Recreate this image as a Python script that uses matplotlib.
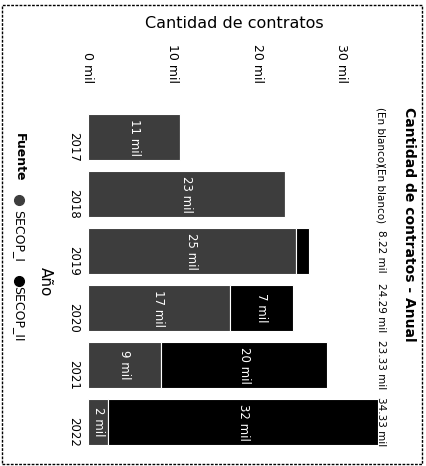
import matplotlib
matplotlib.use("Agg")
import matplotlib.pyplot as plt
from matplotlib.lines import Line2D
from matplotlib.patches import Rectangle

# ---------------- data ----------------
years = ["2017", "2018", "2019", "2020", "2021", "2022"]
series_names = ["SECOP_I", "SECOP_II"]
secop_i = [10.9, 23.3, 24.6, 16.8, 8.6, 2.4]      # miles de contratos
secop_ii = [0.0, 0.0, 1.5, 7.49, 19.73, 31.93]
total_labels = ["(En blanco)", "(En blanco)", "8.22 mil", "24.29 mil", "23.33 mil", "34.33 mil"]
xticks = [0, 10, 20, 30]
xtick_labels = ["0 mil", "10 mil", "20 mil", "30 mil"]

title = "Cantidad de contratos - Anual"
value_title = "Cantidad de contratos"
cat_title = "Año"
legend_title = "Fuente"

colors = ["#3d3d3d", "#000000"]

plt.rcParams["font.family"] = ["DejaVu Sans"]

W, H = 426, 466
fig = plt.figure(figsize=(W / 100, H / 100), dpi=100)

def fx(px):
    return px / W

def fy(py):
    return (H - py) / H

# axes: value 0 at x=88, 8.45 px per mil; category centres 137 + 57*i
x0, x1 = 88, 390
ytop, ybot = 108.5, 450.5
ax = fig.add_axes([fx(x0), fy(ybot), (x1 - x0) / W, (ybot - ytop) / H])
ax.set_xlim(0, (x1 - x0) / 8.45)
ax.set_ylim(len(years) - 0.5, -0.5)

pos = list(range(len(years)))
b1 = ax.barh(pos, secop_i, height=0.82, color=colors[0], edgecolor="white", linewidth=0.8)
b2 = ax.barh(pos, secop_ii, left=secop_i, height=0.82, color=colors[1], edgecolor="white", linewidth=0.8)

def seg_labels(vals):
    return [f"{round(v):.0f} mil" if v >= 2 else "" for v in vals]

ax.bar_label(b1, labels=seg_labels(secop_i), label_type="center", rotation=270,
             color="white", fontsize=8.5)
ax.bar_label(b2, labels=seg_labels(secop_ii), label_type="center", rotation=270,
             color="white", fontsize=8.5)

for sp in ax.spines.values():
    sp.set_visible(False)

ax.xaxis.tick_top()
ax.set_xticks(xticks)
ax.set_xticklabels(xtick_labels, rotation=270, fontsize=9, color="black")
ax.tick_params(axis="x", length=0, pad=18.4)
ax.set_yticks(pos)
ax.set_yticklabels(years, rotation=270, fontsize=8.5, color="black")
ax.tick_params(axis="y", length=0, pad=5.8)

# total labels (right side, rotated)
for i, t in enumerate(total_labels):
    ax.text(0, i, t, transform=ax.get_yaxis_transform(), rotation=270,
            ha="center", va="center", fontsize=7.5, color="black")
# move them to the right column
for txt in ax.texts[-len(total_labels):]:
    txt.set_x((381 - x0) / (x1 - x0))

# titles
fig.text(fx(409), fy(224), title, rotation=270, ha="center", va="center",
         fontsize=10, fontweight="bold", color="black")
fig.text(fx(234), fy(23), value_title, ha="center", va="center", fontsize=11.5, color="black")
fig.text(fx(45), fy(282), cat_title, rotation=270, ha="center", va="center",
         fontsize=11, color="black")

# legend (rotated)
fig.text(fx(19), fy(157), legend_title, rotation=270, ha="center", va="center",
         fontsize=9, fontweight="bold", color="black")
fig.add_artist(Line2D([fx(19)], [fy(200)], marker="o", markersize=7, color=colors[0],
                      linestyle="none", transform=fig.transFigure))
fig.text(fx(19), fy(236), series_names[0], rotation=270, ha="center", va="center",
         fontsize=9, color="black")
fig.add_artist(Line2D([fx(19)], [fy(281)], marker="o", markersize=7, color=colors[1],
                      linestyle="none", transform=fig.transFigure))
fig.text(fx(19), fy(314), series_names[1], rotation=270, ha="center", va="center",
         fontsize=9, color="black")

# outer frame
fig.add_artist(Rectangle((fx(2), fy(464)), fx(420), (464 - 5) / H, fill=False,
                         edgecolor="black", linewidth=1.0, linestyle=(0, (2, 1)),
                         transform=fig.transFigure))

fig.savefig("out.png", dpi=100)
